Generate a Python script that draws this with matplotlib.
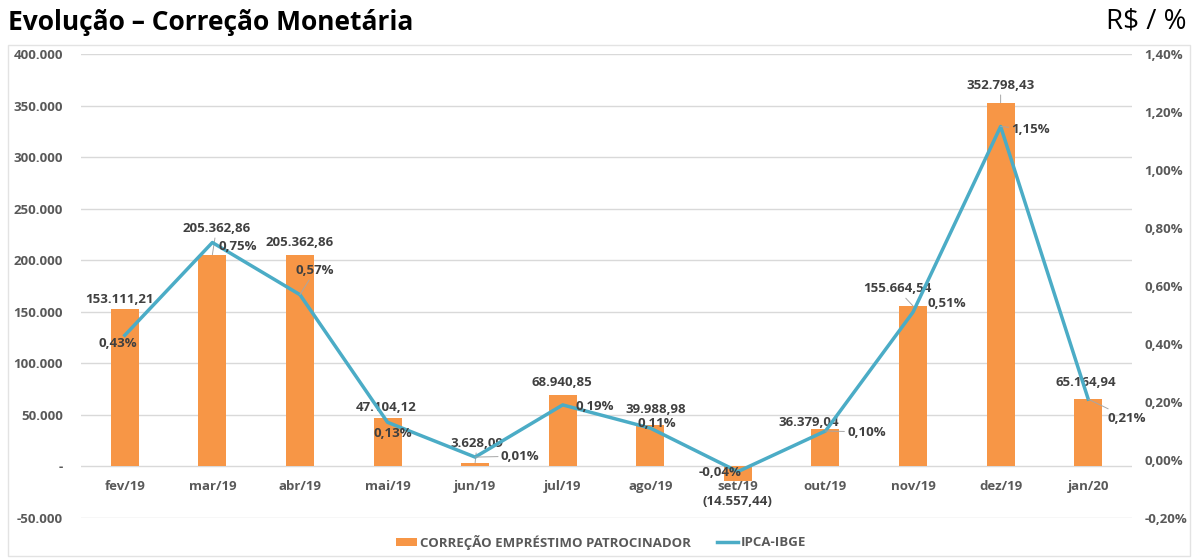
import matplotlib
matplotlib.use("Agg")
import matplotlib.pyplot as plt
from matplotlib.patches import Rectangle
from matplotlib.ticker import FuncFormatter
import numpy as np

plt.rcParams['font.family'] = ['Open Sans', 'DejaVu Sans']

categories = ["fev/19", "mar/19", "abr/19", "mai/19", "jun/19", "jul/19",
              "ago/19", "set/19", "out/19", "nov/19", "dez/19", "jan/20"]
correcao = [153111.21, 205362.86, 205362.86, 47104.12, 3628.09, 68940.85,
            39988.98, -14557.44, 36379.04, 155664.54, 352798.43, 65164.94]
ipca = [0.43, 0.75, 0.57, 0.13, 0.01, 0.19, 0.11, -0.04, 0.10, 0.51, 1.15, 0.21]

bar_labels = ["153.111,21", "205.362,86", "205.362,86", "47.104,12", "3.628,09",
              "68.940,85", "39.988,98", "(14.557,44)", "36.379,04", "155.664,54",
              "352.798,43", "65.164,94"]
line_labels = ["0,43%", "0,75%", "0,57%", "0,13%", "0,01%", "0,19%", "0,11%",
               "-0,04%", "0,10%", "0,51%", "1,15%", "0,21%"]

left_ticks = [-50000, 0, 50000, 100000, 150000, 200000, 250000, 300000, 350000, 400000]
right_ticks = [-0.2, 0.0, 0.2, 0.4, 0.6, 0.8, 1.0, 1.2, 1.4]

# label offsets in pixels (dx, dy) -- layout only
bar_off = [(-5, 9), (4, 26), (0, 12), (-1, 10), (2, 19), (-1, 13),
           (5, 16), (0, -20), (-17, 6), (-16, 17), (0, 17), (-2, 17)]
line_off = [(-7, -8), (25, -4), (15, 24), (5, -11), (45, 1), (32, -2),
            (7, 5), (-18, -1), (41, -1), (34, 9), (30, -3), (39, -19)]
bar_leader = [False, True, False, False, True, False, False, False, False, True, True, False]
line_leader = [False, False, True, False, True, False, False, False, True, False, True, True]

ORANGE = "#F79646"
BLUE = "#4BACC6"
GREY = "#595959"
LABEL = "#404040"
GRID = "#D9D9D9"

fig = plt.figure(figsize=(11.97, 5.58), dpi=100)
fig.patch.set_facecolor("white")
fig.patches.append(Rectangle((8 / 1197, 2 / 558), 1182 / 1197, 511 / 558,
                             transform=fig.transFigure, fill=False,
                             edgecolor="#E3E3E3", linewidth=1.0))

ax = fig.add_axes([81 / 1197, 40 / 558, 1051 / 1197, 464 / 558])
ax2 = ax.twinx()

x = np.arange(len(categories))
ax.bar(x, correcao, width=0.32, color=ORANGE, zorder=2,
       label="CORREÇÃO EMPRÉSTIMO PATROCINADOR")
ax2.plot(x, ipca, color=BLUE, linewidth=2.5, zorder=3, label="IPCA-IBGE")

ax.set_xlim(-0.5, len(categories) - 0.5)
ax.set_ylim(-50000, 400000)
ax2.set_ylim(-0.2, 1.4)

for a in (ax, ax2):
    for s in a.spines.values():
        s.set_visible(False)
# x tick labels sit just below the zero line
ax.spines["bottom"].set_position(("data", 0))

ax.set_yticks(left_ticks)
ax2.set_yticks(right_ticks)


def fmt_left(v, pos):
    if abs(v) < 1e-9:
        return "-"
    return f"{v:,.0f}".replace(",", ".")


def fmt_right(v, pos):
    return f"{v:.2f}%".replace(".", ",")


ax.yaxis.set_major_formatter(FuncFormatter(fmt_left))
ax2.yaxis.set_major_formatter(FuncFormatter(fmt_right))
ax.set_xticks(x)
ax.set_xticklabels(categories, fontweight="bold")

for a in (ax, ax2):
    a.tick_params(length=0, colors=GREY, labelsize=9.5)
    for lbl in a.get_yticklabels() + a.get_xticklabels():
        lbl.set_fontweight("bold")
ax.tick_params(axis="y", pad=13)
ax2.tick_params(axis="y", pad=9)
ax.tick_params(axis="x", pad=10)
ax.grid(axis="y", color=GRID, linewidth=1.0, zorder=0)
ax.set_axisbelow(True)

for i in range(len(categories)):
    ap = dict(arrowstyle="-", color="#A6A6A6", lw=0.7, shrinkA=0, shrinkB=0) if bar_leader[i] else None
    ax.annotate(bar_labels[i], (x[i], correcao[i]), xytext=bar_off[i],
                textcoords="offset pixels", ha="center", va="center",
                fontsize=9.5, fontweight="bold", color=LABEL, zorder=5,
                arrowprops=ap)
    ap2 = dict(arrowstyle="-", color="#A6A6A6", lw=0.7, shrinkA=0, shrinkB=0) if line_leader[i] else None
    ax2.annotate(line_labels[i], (x[i], ipca[i]), xytext=line_off[i],
                 textcoords="offset pixels", ha="center", va="center",
                 fontsize=9.5, fontweight="bold", color=LABEL, zorder=5,
                 arrowprops=ap2)

h1, l1 = ax.get_legend_handles_labels()
h2, l2 = ax2.get_legend_handles_labels()
leg = fig.legend(h1 + h2, l1 + l2, loc="center", bbox_to_anchor=(601 / 1197, 16 / 558),
                 ncol=2, frameon=False, fontsize=9.5, handlelength=1.6,
                 handleheight=0.6, handletextpad=0.2, columnspacing=2.0)
for t in leg.get_texts():
    t.set_color(GREY)
    t.set_fontweight("bold")

fig.text(8 / 1197, 1 - 22 / 558, "Evolução – Correção Monetária", fontsize=19,
         fontweight="bold", color="black", ha="left", va="center")
fig.text(1187 / 1197, 1 - 22 / 558, "R$ / %", fontsize=20, color="black",
         ha="right", va="center")

fig.savefig("out.png", dpi=100, facecolor="white")
